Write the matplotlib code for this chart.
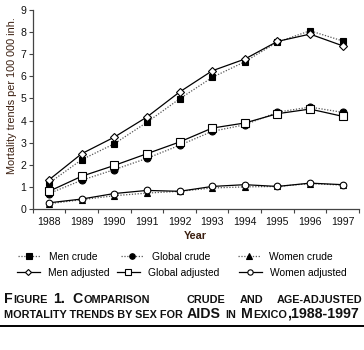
import matplotlib
matplotlib.use("Agg")
import matplotlib.pyplot as plt
from matplotlib.lines import Line2D
import numpy as np

years = [1988, 1989, 1990, 1991, 1992, 1993, 1994, 1995, 1996, 1997]
men_crude = [1.17, 2.23, 2.95, 3.92, 4.98, 5.95, 6.66, 7.55, 8.06, 7.60]
men_adjusted = [1.32, 2.50, 3.25, 4.16, 5.29, 6.25, 6.78, 7.58, 7.91, 7.38]
global_crude = [0.70, 1.30, 1.78, 2.29, 2.88, 3.51, 3.81, 4.38, 4.61, 4.37]
global_adjusted = [0.80, 1.48, 1.97, 2.50, 3.03, 3.66, 3.89, 4.31, 4.52, 4.19]
women_crude = [0.24, 0.42, 0.60, 0.72, 0.80, 0.95, 1.00, 1.02, 1.15, 1.08]
women_adjusted = [0.28, 0.45, 0.70, 0.84, 0.80, 1.02, 1.10, 1.02, 1.17, 1.10]
y_ticks = list(range(0, 10))

W, H = 364, 350
plt.rcParams['font.family'] = ['Liberation Sans', 'DejaVu Sans']
fig = plt.figure(figsize=(W / 100, H / 100), dpi=100)

ax = fig.add_axes([32.7 / W, 1 - 209 / H, (359 - 32.7) / W, (209 - 10) / H])

brown = '#3b1f10'
dot = (0, (1, 1.3))
series = [
    ("Men crude", men_crude, dot, 's', 'black', 5.0),
    ("Men adjusted", men_adjusted, '-', 'D', 'white', 3.8),
    ("Global crude", global_crude, dot, 'o', 'black', 5.0),
    ("Global adjusted", global_adjusted, '-', 's', 'white', 5.4),
    ("Women crude", women_crude, dot, '^', 'black', 4.8),
    ("Women adjusted", women_adjusted, '-', 'o', 'white', 4.8),
]
order = [0, 2, 4, 1, 3, 5]
lines = {}
for i in order:
    name, vals, ls, mk, fc, ms = series[i]
    lc = '#555555' if ls != '-' else 'black'
    ln, = ax.plot(years, vals, linestyle=ls, color=lc, lw=0.9,
                  marker=mk, markerfacecolor=fc, markeredgecolor='black',
                  markeredgewidth=0.8, markersize=ms, zorder=3 + (i % 2))
    lines[i] = ln

ax.set_xlim(1987.5, 1997.5)
ax.set_ylim(0, 9)
ax.set_yticks(y_ticks)
ax.set_xticks(years)
ax.set_xticks(np.arange(1987.5, 1998, 1), minor=True)
ax.tick_params(axis='x', which='major', length=0, labelsize=7.6, pad=6, colors='#111111')
ax.tick_params(axis='x', which='minor', length=3, direction='out', width=0.8, color='#444444')
ax.tick_params(axis='y', length=3, direction='out', width=0.8, labelsize=7.6, pad=1.5,
               color='#444444', labelcolor='#111111')
for s in ['top', 'right']:
    ax.spines[s].set_visible(False)
for s in ['left', 'bottom']:
    ax.spines[s].set_linewidth(0.9)
    ax.spines[s].set_color('#444444')

ax.set_ylabel("Mortality trends per 100 000 inh.", fontsize=7.8, color=brown)
ax.yaxis.set_label_coords(-15.5 / (359 - 32.7), 0.57)
fig.text(195 / W, 1 - 236 / H, "Year", fontsize=7.8, fontweight='bold', color=brown,
         ha='center', va='center')

# legend entries placed individually (handle left x, row y) in pixels
leg_pos = {0: (18, 257), 2: (121, 257), 4: (238, 257),
           1: (17, 273), 3: (117, 273), 5: (239, 273)}
for i in range(6):
    x, y = leg_pos[i]
    fig.legend([lines[i]], [series[i][0]], loc='center left',
               bbox_to_anchor=(x / W, 1 - y / H), frameon=False,
               fontsize=7.4, handlelength=2.2, handletextpad=0.85,
               borderaxespad=0, borderpad=0, markerscale=0.8)

# caption with small caps, placed run by run on a baseline
big, small = 10.2, 7.8
fig.canvas.draw()
renderer = fig.canvas.get_renderer()

def text_width(txt, size):
    t = fig.text(0, 0, txt, fontsize=size, fontweight='bold')
    w = t.get_window_extent(renderer).width
    t.remove()
    return w

def run_line(x_px, y_px, runs):
    x = x_px
    for txt, size, gap in runs:
        x += gap
        fig.text(x / W, 1 - y_px / H, txt, fontsize=size, fontweight='bold',
                 ha='left', va='baseline', color='#111111')
        x += text_width(txt, size)

run_line(4, 303, [("F", big, 0), ("IGURE", small, 0.5), ("1.", big, 5),
                  ("C", big, 8), ("OMPARISON", small, 0.5)])
run_line(187, 303, [("CRUDE", small, 0)])
run_line(240, 303, [("AND", small, 0)])
fig.text(362 / W, 1 - 303 / H, "AGE-ADJUSTED", fontsize=small, fontweight='bold',
         ha='right', va='baseline', color='#111111')
run_line(4, 318, [("MORTALITY TRENDS BY SEX FOR", small, 0), ("AIDS", big, 3.5),
                  ("IN", small, 5), ("M", big, 5), ("EXICO", small, 0.5),
                  (",1988-1997", big, 0)])

fig.add_artist(Line2D([0, 1], [1 - 326 / H, 1 - 326 / H], color='black', lw=1.4,
                      transform=fig.transFigure))

fig.savefig("out.png", dpi=100)
